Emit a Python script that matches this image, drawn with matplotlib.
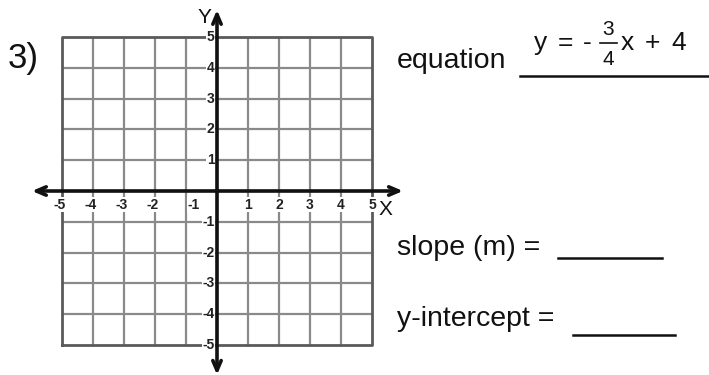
import matplotlib
matplotlib.use("Agg")
import matplotlib.pyplot as plt
from matplotlib.lines import Line2D

plt.rcParams['font.family'] = ['Liberation Sans', 'DejaVu Sans']

# ---- data ----
grid_values = [-5, -4, -3, -2, -1, 0, 1, 2, 3, 4, 5]
x_ticks = [-5, -4, -3, -2, -1, 1, 2, 3, 4, 5]
x_tick_labels = ['-5', '-4', '-3', '-2', '-1', '1', '2', '3', '4', '5']
y_ticks = [5, 4, 3, 2, 1, -1, -2, -3, -4, -5]
y_tick_labels = ['5', '4', '3', '2', '1', '-1', '-2', '-3', '-4', '-5']
problem_label = "3)"
equation_label = "equation"
eq_tokens = ["y", "=", "-", "x", "+", "4"]
eq_num = "3"
eq_den = "4"
slope_label = "slope (m) ="
intercept_label = "y-intercept ="

W, H = 709, 375
fig = plt.figure(figsize=(W / 100, H / 100), dpi=100)
fig.patch.set_facecolor('white')

def px(x, y):
    return (x / W, 1 - y / H)

# grid axes: pixel box left 62, right 372, top 37, bottom 345
L, R, T, B = 62, 372, 37, 345
ax = fig.add_axes([L / W, 1 - B / H, (R - L) / W, (B - T) / H])
ax.set_xlim(-5, 5)
ax.set_ylim(-5, 5)
ax.axis('off')

grid_col = '#8a8a8a'
for v in grid_values:
    if v in (-5, 5):
        continue
    ax.plot([v, v], [-5, 5], color=grid_col, lw=1.6, zorder=1, solid_capstyle='butt')
    ax.plot([-5, 5], [v, v], color=grid_col, lw=1.6, zorder=1, solid_capstyle='butt')
# border
ax.plot([-5, 5, 5, -5, -5], [-5, -5, 5, 5, -5], color='#5a5a5a', lw=2.0, zorder=2,
        clip_on=False)

# axes with arrows
arrow_style = '<->,head_length=0.7,head_width=0.3'
ax.annotate('', xy=(-5.97, 0), xytext=(6.0, 0),
            arrowprops=dict(arrowstyle=arrow_style, lw=2.6, color='#111111',
                            shrinkA=0, shrinkB=0),
            annotation_clip=False, zorder=5)
ax.annotate('', xy=(0, 5.88), xytext=(0, -5.97),
            arrowprops=dict(arrowstyle=arrow_style, lw=2.6, color='#111111',
                            shrinkA=0, shrinkB=0),
            annotation_clip=False, zorder=5)

# x tick labels
for v, lab in zip(x_ticks, x_tick_labels):
    if lab.startswith('-'):
        xpos = v + (0.45 if v == -1 else 0.12)
        ha = 'right'
    else:
        xpos = v
        ha = 'center'
    ax.text(xpos, -0.45, lab, ha=ha, va='center', fontsize=10, fontweight='bold',
            color='#222222', zorder=6, clip_on=False,
            bbox=dict(facecolor='white', edgecolor='none', pad=0.3))

# y tick labels
for v, lab in zip(y_ticks, y_tick_labels):
    ax.text(-0.08, v, lab, ha='right', va='center', fontsize=10, fontweight='bold',
            color='#222222', zorder=6, clip_on=False,
            bbox=dict(facecolor='white', edgecolor='none', pad=0.3))

ax.text(-0.4, 5.62, 'Y', ha='center', va='center', fontsize=15, color='#111111',
        clip_on=False, zorder=6)
ax.text(5.45, -0.6, 'X', ha='center', va='center', fontsize=15, color='#111111',
        clip_on=False, zorder=6)

# problem number
fig.text(*px(8, 68), problem_label, fontsize=25, ha='left', va='baseline', color='#111111')

# equation line
fig.text(*px(397, 68), equation_label, fontsize=20.5, ha='left', va='baseline', color='#111111')
token_centers = [541, 565, 587, 627, 652, 679]
for tok, cx in zip(eq_tokens, token_centers):
    fig.text(*px(cx, 50), tok, fontsize=19, ha='center', va='baseline', color='#111111')
fig.text(*px(608, 35), eq_num, fontsize=15, ha='center', va='baseline', color='#111111')
fig.text(*px(608, 65), eq_den, fontsize=15, ha='center', va='baseline', color='#111111')
fig.add_artist(Line2D([600 / W, 617 / W], [1 - 43 / H, 1 - 43 / H], color='#111111', lw=1.2))
fig.add_artist(Line2D([520 / W, 709 / W], [1 - 76 / H, 1 - 76 / H], color='#111111', lw=1.8))

# slope
fig.text(*px(397, 255), slope_label, fontsize=20.5, ha='left', va='baseline', color='#111111')
fig.add_artist(Line2D([558 / W, 662 / W], [1 - 258 / H, 1 - 258 / H], color='#111111', lw=1.8))

# intercept
fig.text(*px(397, 326), intercept_label, fontsize=20.5, ha='left', va='baseline', color='#111111')
fig.add_artist(Line2D([573 / W, 675 / W], [1 - 335 / H, 1 - 335 / H], color='#111111', lw=1.8))

fig.savefig('out.png', dpi=100, facecolor='white')
